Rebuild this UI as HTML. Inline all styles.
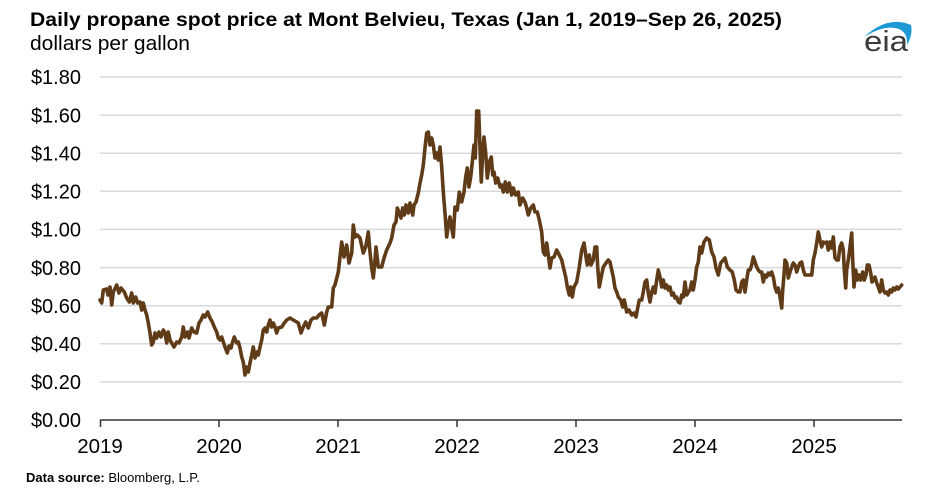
<!DOCTYPE html>
<html><head><meta charset="utf-8"><style>
html,body{margin:0;padding:0;background:#fff;}
svg{display:block;}
text{font-family:"Liberation Sans",Arial,sans-serif;}
</style></head><body>
<svg width="947" height="499" viewBox="0 0 947 499" xmlns="http://www.w3.org/2000/svg">
<rect width="947" height="499" fill="#fff"/>
<text x="30" y="26" font-size="19.5" font-weight="bold" fill="#000" textLength="752" lengthAdjust="spacingAndGlyphs">Daily propane spot price at Mont Belvieu, Texas (Jan 1, 2019–Sep 26, 2025)</text>
<text x="30" y="50" font-size="20" fill="#000" textLength="160" lengthAdjust="spacingAndGlyphs">dollars per gallon</text>
<!-- eia logo -->
<path d="M864,37 Q888,15 911,25 Q913,35 907,45 Q908,33 899,29 Q885,24 864,37 Z" fill="#1d9ad6"/>
<text x="864" y="51" font-size="29" fill="#3a3a3a" textLength="44" lengthAdjust="spacingAndGlyphs">eia</text>
<!-- gridlines -->
<g stroke="#d9d9d9" stroke-width="1.5">
<line x1="100" x2="902" y1="381.9" y2="381.9"/>
<line x1="100" x2="902" y1="343.8" y2="343.8"/>
<line x1="100" x2="902" y1="305.7" y2="305.7"/>
<line x1="100" x2="902" y1="267.6" y2="267.6"/>
<line x1="100" x2="902" y1="229.4" y2="229.4"/>
<line x1="100" x2="902" y1="191.3" y2="191.3"/>
<line x1="100" x2="902" y1="153.2" y2="153.2"/>
<line x1="100" x2="902" y1="115.1" y2="115.1"/>
<line x1="100" x2="902" y1="77" y2="77"/>
</g>
<!-- y labels -->
<g font-size="20" fill="#000" text-anchor="end">
<text x="81" y="427">$0.00</text>
<text x="81" y="389">$0.20</text>
<text x="81" y="351">$0.40</text>
<text x="81" y="313">$0.60</text>
<text x="81" y="275">$0.80</text>
<text x="81" y="236.5">$1.00</text>
<text x="81" y="198.5">$1.20</text>
<text x="81" y="160.5">$1.40</text>
<text x="81" y="122.5">$1.60</text>
<text x="81" y="84">$1.80</text>
</g>
<!-- axis -->
<line x1="100" x2="902" y1="420" y2="420" stroke="#333" stroke-width="1.6"/>
<g stroke="#333" stroke-width="1.5">
<line x1="100.5" x2="100.5" y1="420" y2="427"/>
<line x1="219" x2="219" y1="420" y2="427"/>
<line x1="338" x2="338" y1="420" y2="427"/>
<line x1="457" x2="457" y1="420" y2="427"/>
<line x1="576" x2="576" y1="420" y2="427"/>
<line x1="695" x2="695" y1="420" y2="427"/>
<line x1="814" x2="814" y1="420" y2="427"/>
</g>
<g font-size="20.5" fill="#000" text-anchor="middle">
<text x="100" y="453">2019</text>
<text x="219" y="453">2020</text>
<text x="338" y="453">2021</text>
<text x="457" y="453">2022</text>
<text x="576" y="453">2023</text>
<text x="695" y="453">2024</text>
<text x="814" y="453">2025</text>
</g>
<!-- series -->
<polyline fill="none" stroke="#5f3b17" stroke-width="3.6" stroke-linejoin="round" stroke-linecap="round" points="
100,300 101.7,303 103.3,290 106.7,289 108,295 110,287 111.7,305 113.3,292 116.7,285 119,293 121,288 124.3,292 126.7,298 129.3,302 131.7,293 133.3,303 135.7,297 137.7,303 140,302 141.7,310 143.3,303 145,310 146.7,315 148.3,323 150,333 151.7,345 153.3,342 155,333 156.7,338 159,332 161,337 163.3,330 165,333 166.7,343 168.3,332 170,340 171.7,343 174,347 176.7,342 179,343 181.7,337 183.3,327 185,337 187.7,332 189,338 191.7,328 194,332 196.7,333 199,323 201,320 203.3,315 205,317 207.7,312 210,318 212.3,322 214.3,327 216.7,332 218.3,338 220,340 221.7,337 223.3,342 225,347 227.3,353 229,346 231,348 232.3,343 234.3,337 236.7,343 238.3,342 240,348 241.7,357 243.3,362 245,375 246.7,367 248.3,372 250,363 251.7,355 253.3,347 255,358 256.7,352 258.3,355 260,347 261.7,340 263.3,330 265,328 266.7,332 268.3,325 270,320 271.7,327 273.3,323 275,327 276.7,333 278.3,328 281.7,327 284.3,323 286.7,320 290,318 293.3,320 296.7,322 298.3,323 301,333 303.3,327 305.7,322 308.3,328 311,320 313.3,318 316.7,318 319,315 321.7,313 324.3,325 326.7,312 328.3,307 331.7,307 333.3,288 335,285 338.3,272 341.7,242 344,257 346.7,245 349,263 351.7,253 353.3,225 355,237 357.3,235 360,238 363.3,253 365.7,247 368.3,232 370,252 371.7,268 373.3,278 375,260 376,247 378.3,267 381.7,267 384,258 386.7,250 390,243 391.7,238 394,225 396,222 397.3,208 399.3,213 401,218 402.7,208 404.3,215 406,205 408.3,213 410,203 412.7,215 414,205 416,202 418.3,193 420,183 421.7,175 423.3,165 425,148 426.7,133 428.3,132 430,145 431.7,138 433.3,145 435,158 436.7,153 438.3,160 440,147 441.7,167 443.3,192 445,213 446.7,237 448.3,225 450,217 451.7,228 453.3,237 455,207 457.3,210 459.3,192 461.7,202 464,192 465.7,177 467.3,168 469,187 470.7,177 472.7,158 474,145 475.3,158 476.7,111 478.7,111 480,148 481.3,182 482.7,152 484,137 485.7,153 487.3,178 489.3,162 491.3,157 492.7,175 494,172 495.7,183 497.7,178 500,187 501.7,185 503.3,192 505.3,182 507.3,192 509.3,183 511.7,195 513.3,188 515.7,195 518.3,192 520,205 522.7,198 525,202 526.7,208 528.3,215 530.7,208 533.3,205 535,212 537.3,212 539.3,220 541.7,232 543.3,252 545,255 546.7,243 548.3,255 550,268 551.7,258 554,257 556.7,250 559.3,255 561.7,260 563.3,267 565.7,277 567.3,287 569.3,295 570.7,287 572.3,297 574,287 576.7,282 579.3,267 581.7,250 584,243 586,257 587.3,265 589.3,255 591,265 593.3,260 595,247 596.7,247 597.7,267 599.3,287 601,278 603.3,267 606,263 608.3,260 610,262 611.7,270 613.3,277 615,288 616.7,292 618.3,297 620.7,300 622.7,307 624.3,300 626.7,312 629,310 631.7,315 634,313 636,317 637.3,310 639.3,300 641.7,300 643.3,292 645,282 646.7,280 648.3,293 650,302 651.7,292 653.3,287 655,293 656.7,280 658.3,270 660,277 661.7,287 663.3,280 665,288 666.7,285 668.3,290 670,287 671.7,295 673.3,293 675,298 676.7,297 678.3,302 680,303 681.7,295 683.3,297 685,282 686.7,295 688.3,292 690,290 691.7,282 693.3,290 695,280 696.7,267 698.3,262 700,247 701.7,253 704,242 706.7,238 709.3,240 711.7,252 714,257 716,268 718.3,275 720.7,263 723.3,260 725,258 727.3,267 730,270 732.3,272 734.3,280 736,290 738.3,292 740,292 741.7,282 743.3,280 745,292 746.7,280 748.3,270 750,270 751.7,265 753.3,257 755,262 756.7,267 758.3,270 760,272 761.7,272 763.3,282 765,275 766.7,277 768.3,273 770,275 771.7,272 773.3,277 775,287 776.7,292 778.3,288 780,297 781.7,308 782.7,290 784,275 785,260 786.7,263 788.3,278 790,272 791.7,267 793.3,263 795,265 796.7,272 798.3,267 800,263 801.7,262 803.3,270 805,275 806.7,275 808.3,275 810,275 811.7,275 813.3,260 815,253 816.7,243 818.3,232 820,240 821.7,247 823.3,242 825,243 826.7,242 828.3,250 830,242 831.7,248 833.3,237 835,258 836.7,260 838.3,260 840,247 841.7,243 843.3,250 844.3,270 845.7,288 846.7,270 848.3,260 850,247 851.7,233 852.7,260 854,287 855.7,270 857.3,280 859,275 860.7,280 862.7,272 864.3,280 866,275 867.3,265 869,265 870.7,273 872,282 873.3,280 875,277 876.7,283 878.3,287 880,292 881.7,280 883.3,290 885,293 886.7,292 888.3,295 890,290 891.7,292 893.3,288 895,290 896.7,287 898.3,289 900,287 901.7,285"/>
<!-- source -->
<text x="26" y="482" font-size="13" fill="#000"><tspan font-weight="bold">Data source:</tspan> Bloomberg, L.P.</text>
</svg>
</body></html>
